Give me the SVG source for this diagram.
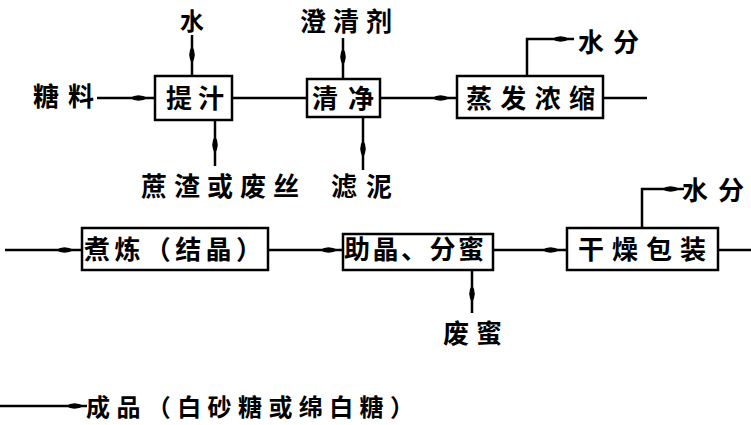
<svg xmlns="http://www.w3.org/2000/svg" xmlns:xlink="http://www.w3.org/1999/xlink" width="751" height="425" viewBox="0 0 751 425">
<defs>
<style>
.bg{fill:#fff}
.box{fill:#fff;stroke:#000;stroke-width:2.5}
.ln{fill:none;stroke:#000;stroke-width:2.5}
.t{font-family:"Noto Sans CJK SC","Noto Sans CJK JP",sans-serif;font-weight:700;font-size:26px;fill:#000}
.ah{fill:#000}
</style>
<path id="ahr" class="ah" d="M-10,0 Q-2,-5.5 8,0 Q-2,5.5 -10,0 Z"/>
<path id="ahd" class="ah" d="M0,-10 Q-5.5,-2 0,8 Q5.5,-2 0,-10 Z"/>
</defs>
<rect class="bg" x="0" y="0" width="751" height="425"/>

<g id="connectors">
<path class="ln" d="M97,98 H155"/>
<use href="#ahr" x="140" y="98"/>
<path class="ln" d="M192,35 V76"/>
<use href="#ahd" x="192" y="56"/>
<path class="ln" d="M215,120 V166"/>
<use href="#ahd" x="215" y="146"/>
<path class="ln" d="M232,98 H307"/>
<path class="ln" d="M343,38 V79"/>
<use href="#ahd" x="343" y="58"/>
<path class="ln" d="M363,117 V170"/>
<use href="#ahd" x="363" y="150"/>
<path class="ln" d="M380,98 H457"/>
<use href="#ahr" x="442" y="98"/>
<path class="ln" d="M527,76 V39 H574"/>
<use href="#ahr" x="562" y="39"/>
<path class="ln" d="M603,98 H647"/>
<path class="ln" d="M5,250 H82"/>
<use href="#ahr" x="66" y="250"/>
<path class="ln" d="M268,250 H343"/>
<use href="#ahr" x="330" y="250"/>
<path class="ln" d="M472,270 V313"/>
<use href="#ahd" x="472" y="295"/>
<path class="ln" d="M493,250 H567"/>
<use href="#ahr" x="552" y="250"/>
<path class="ln" d="M642,228 V189 H684"/>
<use href="#ahr" x="672" y="189"/>
<path class="ln" d="M718,250 H751"/>
<path class="ln" d="M0,406 H87"/>
<use href="#ahr" x="76" y="406"/>
</g>

<g id="n-tizhi"><rect class="box" x="155" y="76" width="77" height="44"/><text class="t" x="166" y="108" textLength="58" lengthAdjust="spacing">提汁</text></g>
<g id="n-qingjing"><rect class="box" x="307" y="79" width="73" height="38"/><text class="t" x="312" y="108" textLength="62" lengthAdjust="spacing">清净</text></g>
<g id="n-zhengfa"><rect class="box" x="457" y="76" width="146" height="42"/><text class="t" x="466" y="108" textLength="129" lengthAdjust="spacing">蒸发浓缩</text></g>
<g id="n-zhulian"><rect class="box" x="82" y="228" width="186" height="42"/><text class="t" x="84" y="259" textLength="178" lengthAdjust="spacing">煮炼（结晶）</text></g>
<g id="n-zhujing"><rect class="box" x="343" y="234" width="150" height="36"/><text class="t" x="344" y="259" textLength="140" lengthAdjust="spacing">助晶、分蜜</text></g>
<g id="n-ganzao"><rect class="box" x="567" y="228" width="151" height="42"/><text class="t" x="578" y="259" textLength="128" lengthAdjust="spacing">干燥包装</text></g>

<g id="l-shui"><text class="t" x="192" y="30" text-anchor="middle" style="font-size:24px">水</text></g>
<g id="l-chengqingji"><text class="t" x="300" y="31" textLength="92" lengthAdjust="spacing">澄清剂</text></g>
<g id="l-tangliao"><text class="t" x="33" y="106" textLength="61" lengthAdjust="spacing">糖料</text></g>
<g id="l-shuifen1"><text class="t" x="578" y="52" textLength="61" lengthAdjust="spacing">水分</text></g>
<g id="l-zhezha"><text class="t" x="141" y="196" textLength="158" lengthAdjust="spacing">蔗渣或废丝</text></g>
<g id="l-luni"><text class="t" x="331" y="196" textLength="61" lengthAdjust="spacing">滤泥</text></g>
<g id="l-shuifen2"><text class="t" x="682" y="200" textLength="62" lengthAdjust="spacing">水分</text></g>
<g id="l-feimi"><text class="t" x="443" y="343" textLength="59" lengthAdjust="spacing">废蜜</text></g>
<g id="l-chengpin"><text class="t" x="86" y="416" style="font-size:24px" textLength="328" lengthAdjust="spacing">成品（白砂糖或绵白糖）</text></g>
</svg>
